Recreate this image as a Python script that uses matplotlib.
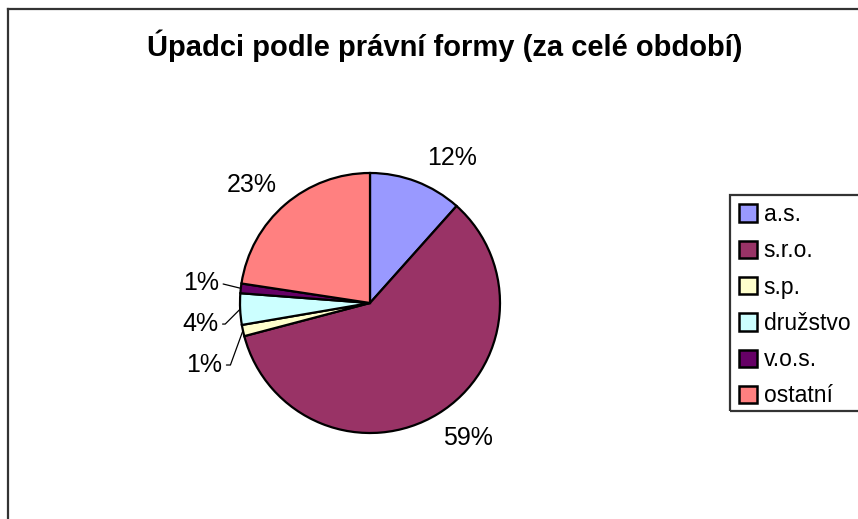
import matplotlib
matplotlib.use("Agg")
import matplotlib.pyplot as plt
from matplotlib.patches import Patch, Rectangle
from matplotlib.lines import Line2D
import numpy as np

plt.rcParams['font.family'] = ['Liberation Sans', 'DejaVu Sans']

title = "Úpadci podle právní formy (za celé období)"
categories = ["a.s.", "s.r.o.", "s.p.", "družstvo", "v.o.s.", "ostatní"]
shares = [11.6, 59.3, 1.4, 3.9, 1.2, 22.6]
colors = ["#9999FF", "#993366", "#FFFFCC", "#CCFFFF", "#660066", "#FF8080"]

# label placement (x, y in pie radius units) and leader-line angle (None = no leader)
label_pos = [(0.63, 1.115), (0.754, -1.04), (-1.275, -0.477),
             (-1.305, -0.162), (-1.30, 0.154), (-0.908, 0.908)]
leader_angle = [None, None, 70, 45, 0, None]

W, H = 858, 519
fig = plt.figure(figsize=(W / 100, H / 100), dpi=100)

# outer chart border
fig.add_artist(Line2D([8 / W, 8 / W], [0, 1 - 9 / H], transform=fig.transFigure,
                      color="#333333", lw=1.6))
fig.add_artist(Line2D([8 / W, 1], [1 - 9 / H, 1 - 9 / H], transform=fig.transFigure,
                      color="#333333", lw=1.6))

fig.text(445 / W, 1 - 46 / H, title, ha="center", va="center",
         fontsize=21, fontweight="bold")

cx, cy, R = 370, 303, 130
span = 200
ax = fig.add_axes([(cx - span) / W, (H - cy - span) / H, 2 * span / W, 2 * span / H])

wedges, _ = ax.pie(shares, colors=colors, startangle=90, counterclock=False,
                   radius=1.0, wedgeprops=dict(edgecolor="black", linewidth=1.6))
ax.set_xlim(-span / R, span / R)
ax.set_ylim(-span / R, span / R)
ax.set_aspect("equal")
ax.axis("off")

total = sum(shares)
cum = 0.0
for i, v in enumerate(shares):
    mid = 90 - (cum + v / 2) / total * 360
    cum += v
    rim = (np.cos(np.radians(mid)), np.sin(np.radians(mid)))
    txt = f"{v:.0f}%"
    if leader_angle[i] is None:
        ax.text(label_pos[i][0], label_pos[i][1], txt, ha="center", va="center",
                fontsize=18)
    else:
        ax.annotate(txt, xy=rim, xytext=label_pos[i], ha="center", va="center",
                    fontsize=18,
                    arrowprops=dict(arrowstyle="-", color="black", lw=0.9,
                                    relpos=(1, 0.5), shrinkA=1, shrinkB=0,
                                    connectionstyle=f"angle,angleA=0,angleB={leader_angle[i]},rad=0"
                                    if leader_angle[i] else "arc3,rad=0"))

# legend box
fig.add_artist(Rectangle((730 / W, 1 - 411 / H), 200 / W, 216 / H,
                         transform=fig.transFigure, facecolor="none",
                         edgecolor="#333333", lw=1.6, clip_on=False))
handles = [Patch(facecolor=c, edgecolor="black", linewidth=1.8) for c in colors]
fig.legend(handles, categories, loc="upper left",
           bbox_to_anchor=(739 / W, 1 - 203 / H), frameon=False, fontsize=16.5,
           handlelength=0.78, handleheight=0.78, handletextpad=0.3,
           labelspacing=0.58, borderpad=0, borderaxespad=0)

fig.savefig("out.png", dpi=100)
